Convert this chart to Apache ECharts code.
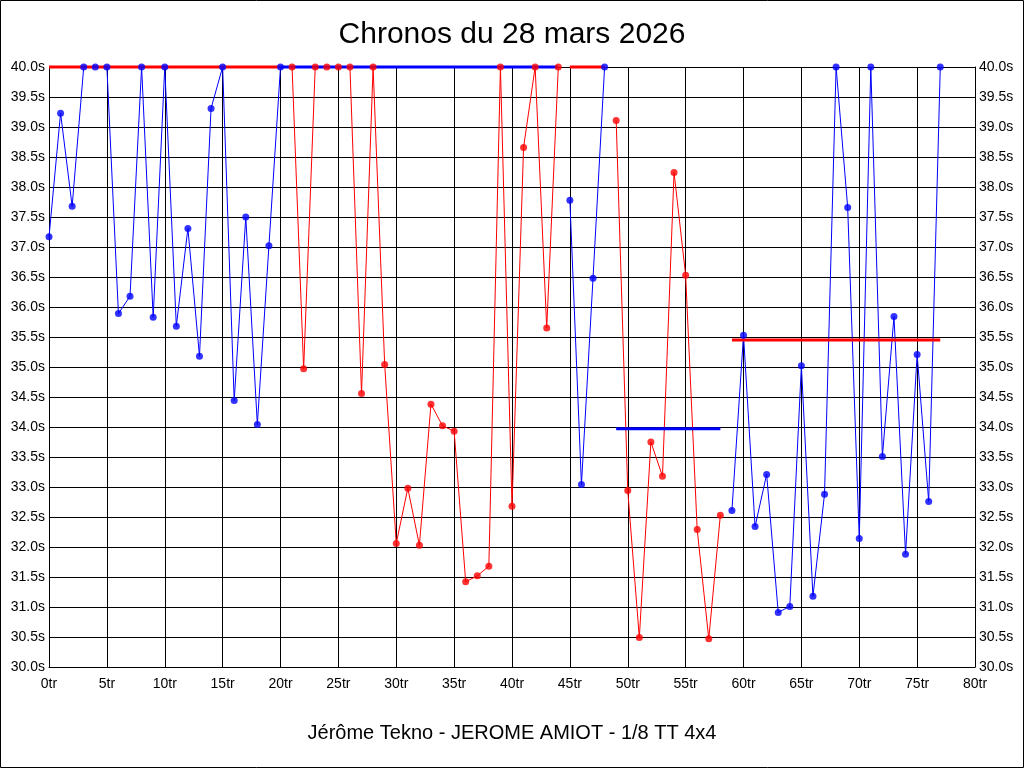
<!DOCTYPE html>
<html>
<head>
<meta charset="utf-8">
<script src="https://cdn.jsdelivr.net/npm/echarts@6/dist/echarts.min.js"></script>
<style>
html,body{margin:0;padding:0;background:#fff;}
#chart{width:1024px;height:768px;}
</style>
</head>
<body>
<div id="chart"></div>
<script>
// Lap times (seconds), values above 40 s are shown clipped at 40 s
const run1Start = 0;
const run1Times = [37.17, 39.23, 37.68, 40, 40, 40, 35.89, 36.18, 40, 35.83, 40, 35.68, 37.31, 35.18, 39.31, 40, 34.44, 37.50, 34.04, 37.02, 40];
const run2Start = 21;
const run2Times = [40, 34.97, 40, 40, 40, 40, 34.56, 40, 35.04, 32.06, 32.98, 32.03, 34.38, 34.02, 33.93, 31.42, 31.52, 31.68, 40, 32.68, 38.66, 40, 35.65, 40];
const run3Start = 45;
const run3Times = [37.78, 33.04, 36.48, 40];
const run4Start = 49;
const run4Times = [39.11, 32.94, 30.49, 33.75, 33.18, 38.24, 36.53, 32.29, 30.47, 32.53];
const run5Start = 59;
const run5Times = [32.61, 35.53, 32.34, 33.21, 30.91, 31.01, 35.02, 31.18, 32.88, 40, 37.66, 32.14, 40, 33.51, 35.84, 31.88, 35.21, 32.76, 40];

// Average lines per run (clipped at 40 s)
const avgValues = [40, 40, 40, 33.97, 35.45];
const avgFrom = [0, 20, 45, 49, 59];
const avgTo = [20, 44, 48, 58, 77];

const xTicks = {min: 0, max: 80, interval: 5};
const yTicks = {min: 30, max: 40, interval: 0.5};

const titleText = 'Chronos du 28 mars 2026';
const subtitleText = 'Jérôme Tekno - JEROME AMIOT - 1/8 TT 4x4';

const runs = [
  {start: run1Start, times: run1Times},
  {start: run2Start, times: run2Times},
  {start: run3Start, times: run3Times},
  {start: run4Start, times: run4Times},
  {start: run5Start, times: run5Times}
];
const BLUE = '#0000ff', RED = '#ff0000';
const runColors = [BLUE, RED, BLUE, RED, BLUE];
const avgColors = [RED, BLUE, RED, BLUE, RED];
const FONT = '"Liberation Sans", Arial, sans-serif';

const series = [];
runs.forEach((r, i) => {
  const data = r.times.map((t, k) => [r.start + k, t]);
  series.push({
    type: 'line', data: data, showSymbol: false, symbol: 'none',
    lineStyle: {color: runColors[i], width: 1}, itemStyle: {color: runColors[i]},
    z: 2, clip: false, animation: false, silent: true
  });
});
avgValues.forEach((v, i) => {
  series.push({
    type: 'line', data: [[avgFrom[i], v], [avgTo[i], v]], symbol: 'none',
    lineStyle: {color: avgColors[i], width: 3}, z: 3, clip: false, animation: false, silent: true
  });
});
runs.forEach((r, i) => {
  const data = r.times.map((t, k) => [r.start + k, t]);
  series.push({
    type: 'scatter', data: data, symbol: 'circle', symbolSize: 7,
    itemStyle: {color: runColors[i]}, z: 4, clip: false, animation: false, silent: true
  });
});

const chart = echarts.init(document.getElementById('chart'));
chart.setOption({
  backgroundColor: '#fff',
  animation: false,
  title: [
    {text: titleText, left: 'center', top: 15,
     textStyle: {fontFamily: FONT, fontSize: 30, fontWeight: 'normal', color: '#000'}},
    {text: subtitleText, left: 'center', top: 718,
     textStyle: {fontFamily: FONT, fontSize: 20, fontWeight: 'normal', color: '#000'}}
  ],
  grid: {left: 49, right: 49, top: 67, bottom: 101, containLabel: false},
  xAxis: {
    type: 'value', min: xTicks.min, max: xTicks.max, interval: xTicks.interval,
    axisLine: {show: true, onZero: false, lineStyle: {color: '#000', width: 1}},
    axisTick: {show: false},
    axisLabel: {formatter: '{value}tr', fontFamily: FONT, fontSize: 14, color: '#000', margin: 10},
    splitLine: {show: true, lineStyle: {color: '#000', width: 1}}
  },
  yAxis: [
    {
      type: 'value', position: 'left', min: yTicks.min, max: yTicks.max, interval: yTicks.interval,
      axisLine: {show: true, lineStyle: {color: '#000', width: 1}},
      axisTick: {show: false},
      axisLabel: {formatter: v => v.toFixed(1) + 's', fontFamily: FONT, fontSize: 14, color: '#000', margin: 4},
      splitLine: {show: true, lineStyle: {color: '#000', width: 1}}
    },
    {
      type: 'value', position: 'right', min: yTicks.min, max: yTicks.max, interval: yTicks.interval,
      axisLine: {show: true, lineStyle: {color: '#000', width: 1}},
      axisTick: {show: false},
      axisLabel: {formatter: v => v.toFixed(1) + 's', fontFamily: FONT, fontSize: 14, color: '#000', margin: 4},
      splitLine: {show: false}
    }
  ],
  graphic: [{
    type: 'rect', silent: true, z: 100,
    shape: {x: 0.5, y: 0.5, width: 1023, height: 767},
    style: {fill: null, stroke: '#000', lineWidth: 1}
  }],
  series: series
});
</script>
</body>
</html>
